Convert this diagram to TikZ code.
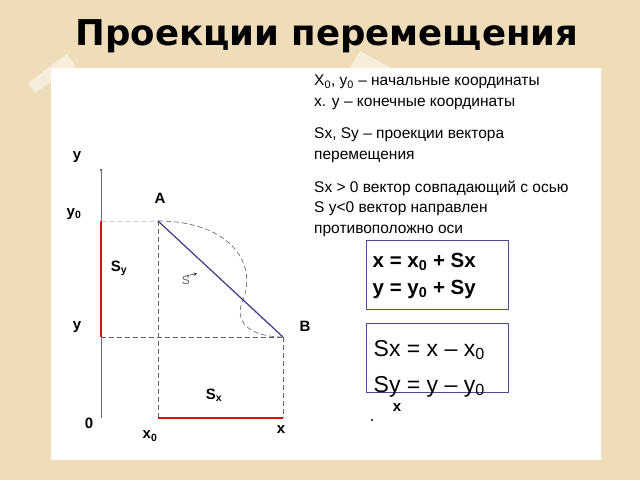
\documentclass[tikz,border=0pt]{standalone}
\usepackage{fontspec}
\setmainfont{Liberation Sans}
\newfontfamily\titlefont{DejaVu Sans}
\usepackage{tikz}
\usetikzlibrary{arrows}
\usetikzlibrary{positioning}
\definecolor{paper}{HTML}{EEDDB8}
\definecolor{vecblue}{HTML}{3A3A8C}
\definecolor{boxblue}{HTML}{4B4B8B}
\definecolor{projred}{HTML}{DD1111}
\tikzset{%
  axisline/.style={draw=gray!85!black,line width=0.8pt},
  projline/.style={draw=projred,line width=2.6pt},
  guideline/.style={draw=gray!75!black,line width=0.6pt,dash pattern=on 5pt off 3pt},
  vecline/.style={draw=vecblue,line width=1.2pt},
  axislabel/.style={font=\fontsize{15}{15}\selectfont\bfseries,inner sep=0pt},
  infotext/.style={font=\fontsize{15.5}{20.5}\selectfont,align=left,inner sep=0pt},
  formbox/.style={rectangle,draw=boxblue,line width=1pt,minimum width=142pt,minimum height=69pt},
  tape/.style={fill=white,fill opacity=0.5,draw=none}
}
\begin{document}
\begin{tikzpicture}[x=1pt,y=-1pt]
    % background and sheet
    \fill[paper] (0,0) rectangle (640,480);
    \useasboundingbox (0,0) rectangle (640,480);
    \fill[tape] (28,83) -- (67,54) -- (75,66) -- (35,93) -- cycle;
    \fill[tape] (350,68) -- (360,51) -- (402,74) -- (392,90) -- cycle;
    \fill[white] (51,68) rectangle (601,460);
    \node[font=\titlefont\bfseries\fontsize{35.5}{35.5}\selectfont] (title) at (327,36) {Проекции перемещения};
    % points
    \coordinate (O) at (101,418);
    \coordinate (ytop) at (101,170);
    \coordinate (y0) at (101,221);
    \coordinate (y1) at (101,337);
    \coordinate (A) at (158,221);
    \coordinate (B) at (283,337);
    \coordinate (x0) at (158,418);
    \coordinate (x1) at (283,418);
    % axis and projections
    \draw[axisline] (O) -- (ytop);
    \fill[gray!85!black] (ytop) circle (1.3);
    \draw[guideline,draw=gray!35] (y0) -- (A);
    \draw[guideline] (A) -- (x0);
    \draw[guideline] (y1) -- (B);
    \draw[guideline] (B) -- (x1);
    \draw[projline] (y0) -- (y1);
    \draw[projline] (x0) -- (x1);
    \draw[guideline] (A) .. controls (228,221) and (258,262) .. (243,300)
        .. controls (233,322) and (250,337) .. (B);
    \draw[vecline] (A) -- (B);
    % labels
    \node[axislabel] (ylab) at (77,157) {y};
    \node[axislabel] (y0lab) at (74,214) {y\textsubscript{0}};
    \node[axislabel] (y1lab) at (77,327) {y};
    \node[axislabel] (olab) at (89,423) {0};
    \node[axislabel] (alab) at (160,198) {A};
    \node[axislabel] (blab) at (305,326) {B};
    \node[axislabel] (sylab) at (119,268) {S\textsubscript{y}};
    \node[axislabel] (sxlab) at (214,395) {S\textsubscript{x}};
    \node[axislabel] (x0lab) at (150,436) {x\textsubscript{0}};
    \node[axislabel] (x1lab) at (281,430) {x};
    \node[font=\fontsize{12}{12}\selectfont,text=gray!80!black,inner sep=0pt] (svec) at (186,280) {S};
    \draw[->,>=stealth,gray!20!black,line width=0.5pt] ([xshift=1pt]svec.north) -- ([xshift=11pt,yshift=2pt]svec.north);
    % notes
    \node[infotext,anchor=north west] (info1) at (314,75)
        {X\textsubscript{0}, y\textsubscript{0} – начальные координаты\\x. y – конечные координаты};
    \node[infotext,below=18pt of info1.south west,anchor=north west] (info2)
        {Sx, Sy – проекции вектора\\перемещения};
    \node[infotext,below=18pt of info2.south west,anchor=north west] (info3)
        {Sx > 0 вектор совпадающий с осью\\S y<0  вектор направлен\\противоположно оси};
    % formulas
    \node[formbox] (eqbox1) at (437,274.5) {};
    \node[formbox] (eqbox2) at (437,357.5) {};
    \node[font=\fontsize{20.5}{27}\selectfont\bfseries,align=left,anchor=west,inner sep=0pt] (eqs1)
        at ([xshift=7pt,yshift=-36pt]eqbox1.north west)
        {x = x\textsubscript{0} + Sx\\y = y\textsubscript{0} + Sy};
    \node[font=\fontsize{23}{36}\selectfont,align=left,anchor=west,inner sep=0pt] (eqs2)
        at ([xshift=8pt,yshift=-46pt]eqbox2.north west)
        {Sx = x – x\textsubscript{0}\\Sy = y – y\textsubscript{0}};
    \node[axislabel] (xlab) at (397,408) {x};
    \fill (372,420) circle (1.2);
\end{tikzpicture}
\end{document}
